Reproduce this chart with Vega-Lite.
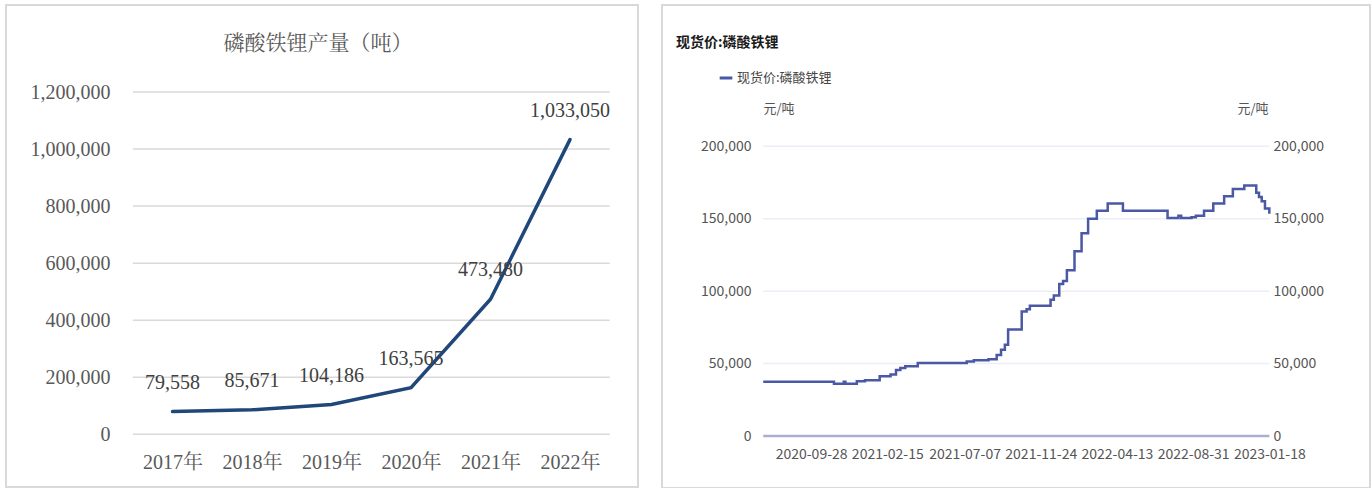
{
  "$schema": "https://vega.github.io/schema/vega-lite/v6.json",
  "background": "white",
  "padding": {"left": 5, "top": 4, "right": 5, "bottom": 1},
  "spacing": 22,
  "config": {
    "view": {"stroke": "#d9d9d9", "strokeWidth": 2},
    "axis": {"grid": false, "domain": false, "ticks": false, "tickSize": 0}
  },
  "datasets": {
    "production": [
      {"year": 2017, "output": 79558},
      {"year": 2018, "output": 85671},
      {"year": 2019, "output": 104186},
      {"year": 2020, "output": 163565},
      {"year": 2021, "output": 473480},
      {"year": 2022, "output": 1033050}
    ],
    "grid1": [{"v": 0}, {"v": 200000}, {"v": 400000}, {"v": 600000}, {"v": 800000}, {"v": 1000000}, {"v": 1200000}],
    "grid2": [{"v": 50000}, {"v": 100000}, {"v": 150000}, {"v": 200000}],
    "price": [
      {"date": "2020-07-02", "price": 37500},
      {"date": "2020-11-09", "price": 36000},
      {"date": "2020-11-27", "price": 37500},
      {"date": "2020-11-30", "price": 36000},
      {"date": "2020-12-21", "price": 37800},
      {"date": "2021-01-05", "price": 38500},
      {"date": "2021-02-01", "price": 41200},
      {"date": "2021-02-21", "price": 42500},
      {"date": "2021-03-03", "price": 45500},
      {"date": "2021-03-11", "price": 47000},
      {"date": "2021-03-20", "price": 48200},
      {"date": "2021-04-12", "price": 50400},
      {"date": "2021-07-11", "price": 51400},
      {"date": "2021-07-24", "price": 52300},
      {"date": "2021-08-20", "price": 53000},
      {"date": "2021-09-04", "price": 56000},
      {"date": "2021-09-12", "price": 59500},
      {"date": "2021-09-19", "price": 63000},
      {"date": "2021-09-25", "price": 73500},
      {"date": "2021-10-20", "price": 86000},
      {"date": "2021-10-29", "price": 87500},
      {"date": "2021-11-04", "price": 90000},
      {"date": "2021-12-12", "price": 94000},
      {"date": "2021-12-18", "price": 97000},
      {"date": "2021-12-28", "price": 105000},
      {"date": "2022-01-04", "price": 107000},
      {"date": "2022-01-11", "price": 114500},
      {"date": "2022-01-25", "price": 127500},
      {"date": "2022-02-07", "price": 140000},
      {"date": "2022-02-19", "price": 150000},
      {"date": "2022-03-07", "price": 155500},
      {"date": "2022-03-27", "price": 160500},
      {"date": "2022-04-24", "price": 155500},
      {"date": "2022-07-15", "price": 150500},
      {"date": "2022-08-04", "price": 152000},
      {"date": "2022-08-09", "price": 150500},
      {"date": "2022-08-28", "price": 151000},
      {"date": "2022-09-05", "price": 152000},
      {"date": "2022-09-20", "price": 155500},
      {"date": "2022-10-07", "price": 160500},
      {"date": "2022-10-27", "price": 165500},
      {"date": "2022-11-12", "price": 170500},
      {"date": "2022-12-03", "price": 173000},
      {"date": "2022-12-25", "price": 168000},
      {"date": "2022-12-30", "price": 165000},
      {"date": "2023-01-04", "price": 162000},
      {"date": "2023-01-10", "price": 157000},
      {"date": "2023-01-18", "price": 153500}
    ]
  },
  "hconcat": [
    {
      "width": 632,
      "height": 482,
      "title": {
        "text": "磷酸铁锂产量（吨）",
        "anchor": "middle",
        "frame": "group",
        "offset": -38,
        "baseline": "middle",
        "dx": -4,
        "dy": 22,
        "fontSize": 21,
        "fontWeight": "normal",
        "font": "Liberation Serif, Noto Serif CJK SC, Noto Sans CJK SC",
        "color": "#595959"
      },
      "resolve": {"axis": {"x": "independent", "y": "independent"}},
      "layer": [
        {
          "data": {"name": "grid1"},
          "mark": {"type": "rule", "color": "#d9d9d9", "strokeWidth": 1.5},
          "encoding": {
            "x": {"datum": 2016.5, "type": "quantitative", "axis": null},
            "x2": {"datum": 2022.5},
            "y": {"field": "v", "type": "quantitative", "axis": null}
          }
        },
        {
          "data": {"name": "production"},
          "mark": {"type": "line", "color": "#1f477a", "strokeWidth": 3.5, "strokeCap": "round"},
          "encoding": {
            "x": {
              "field": "year",
              "type": "quantitative",
              "scale": {"domain": [2014.904, 2022.856], "nice": false, "zero": false},
              "axis": {
                "orient": "bottom",
                "offset": -53,
                "values": [2017, 2018, 2019, 2020, 2021, 2022],
                "labelExpr": "datum.value + '年'",
                "labelPadding": 18,
                "labelFontSize": 20,
                "labelFont": "Liberation Serif, Noto Serif CJK SC, Noto Sans CJK SC",
                "labelColor": "#595959",
                "title": null
              }
            },
            "y": {
              "field": "output",
              "type": "quantitative",
              "scale": {"domain": [-184750, 1505000], "nice": false, "zero": false},
              "axis": {
                "orient": "left",
                "offset": -128,
                "values": [0, 200000, 400000, 600000, 800000, 1000000, 1200000],
                "labelExpr": "format(datum.value, ',')",
                "labelPadding": 24,
                "labelFontSize": 20,
                "labelFont": "Liberation Serif",
                "labelColor": "#595959",
                "title": null
              }
            }
          }
        },
        {
          "data": {"name": "production"},
          "mark": {"type": "text", "dy": -29, "baseline": "middle", "align": "center", "fontSize": 20, "font": "Liberation Serif", "color": "#404040"},
          "encoding": {
            "x": {"field": "year", "type": "quantitative", "axis": null},
            "y": {"field": "output", "type": "quantitative", "axis": null},
            "text": {"field": "output", "type": "quantitative", "format": ","}
          }
        }
      ]
    },
    {
      "width": 708,
      "height": 483,
      "title": {
        "text": "现货价:磷酸铁锂",
        "anchor": "start",
        "frame": "group",
        "offset": -38,
        "baseline": "middle",
        "dx": 14,
        "dy": 14,
        "fontSize": 14,
        "fontWeight": "bold",
        "font": "Liberation Sans Narrow, Noto Sans CJK SC",
        "color": "#1a1a1a"
      },
      "resolve": {"axis": {"x": "independent", "y": "independent"}},
      "layer": [
        {
          "data": {"name": "grid2"},
          "mark": {"type": "rule", "color": "#eceef6", "strokeWidth": 1.5},
          "encoding": {
            "x": {"datum": {"year": 2020, "month": 7, "date": 2, "utc": true}, "type": "temporal", "axis": null},
            "x2": {"datum": {"year": 2023, "month": 1, "date": 18, "utc": true}},
            "y": {
              "field": "v",
              "type": "quantitative",
              "scale": {"domain": [-35899, 297549], "nice": false, "zero": false},
              "axis": {
                "orient": "left",
                "offset": -101,
                "values": [0, 50000, 100000, 150000, 200000],
                "labelExpr": "format(datum.value, ',')",
                "labelPadding": 12,
                "labelFontSize": 14,
                "labelFont": "Liberation Sans Narrow, Noto Sans CJK SC",
                "labelColor": "#555555",
                "title": "元/吨",
                "titleAngle": 0,
                "titleAlign": "left",
                "titleBaseline": "middle",
                "titleX": 0,
                "titleY": 103,
                "titleFontSize": 13,
                "titleFontWeight": "normal",
                "titleFont": "Noto Sans CJK SC",
                "titleColor": "#555555"
              }
            }
          }
        },
        {
          "data": {"values": [{"v": 0}]},
          "mark": {"type": "rule", "color": "#a9afd3", "strokeWidth": 2.5},
          "encoding": {
            "x": {"datum": {"year": 2020, "month": 7, "date": 2, "utc": true}, "type": "temporal", "axis": null},
            "x2": {"datum": {"year": 2023, "month": 1, "date": 18, "utc": true}},
            "y": {"field": "v", "type": "quantitative", "axis": null}
          }
        },
        {
          "data": {"name": "price"},
          "mark": {"type": "line", "interpolate": "step-after", "strokeWidth": 2.5},
          "encoding": {
            "x": {
              "field": "date",
              "type": "temporal",
              "scale": {
                "type": "utc",
                "domain": [
                  {"year": 2019, "month": 12, "date": 29, "utc": true},
                  {"year": 2023, "month": 7, "date": 22, "utc": true}
                ]
              },
              "axis": {
                "orient": "bottom",
                "offset": -52,
                "values": [
                  {"year": 2020, "month": 9, "date": 28, "utc": true},
                  {"year": 2021, "month": 2, "date": 15, "utc": true},
                  {"year": 2021, "month": 7, "date": 7, "utc": true},
                  {"year": 2021, "month": 11, "date": 24, "utc": true},
                  {"year": 2022, "month": 4, "date": 13, "utc": true},
                  {"year": 2022, "month": 8, "date": 31, "utc": true},
                  {"year": 2023, "month": 1, "date": 18, "utc": true}
                ],
                "labelExpr": "utcFormat(datum.value, '%Y-%m-%d')",
                "labelPadding": 11,
                "labelFontSize": 14,
                "labelFont": "Liberation Sans Narrow, Noto Sans CJK SC",
                "labelColor": "#555555",
                "title": null
              }
            },
            "y": {
              "field": "price",
              "type": "quantitative",
              "axis": {
                "orient": "right",
                "offset": -102,
                "values": [0, 50000, 100000, 150000, 200000],
                "labelExpr": "format(datum.value, ',')",
                "labelPadding": 5,
                "labelFontSize": 14,
                "labelFont": "Liberation Sans Narrow, Noto Sans CJK SC",
                "labelColor": "#555555",
                "title": "元/吨",
                "titleAngle": 0,
                "titleAlign": "right",
                "titleBaseline": "middle",
                "titleX": 0,
                "titleY": 103,
                "titleFontSize": 13,
                "titleFontWeight": "normal",
                "titleFont": "Noto Sans CJK SC",
                "titleColor": "#555555"
              }
            },
            "color": {
              "datum": "现货价:磷酸铁锂",
              "scale": {"range": ["#4a58a5"]},
              "legend": {
                "orient": "none",
                "legendX": 712,
                "legendY": 65,
                "title": null,
                "symbolType": "stroke",
                "symbolStrokeWidth": 3,
                "symbolSize": 160,
                "labelFontSize": 13,
                "labelFont": "Liberation Sans Narrow, Noto Sans CJK SC",
                "labelColor": "#444444",
                "labelOffset": 3
              }
            }
          }
        }
      ]
    }
  ]
}
